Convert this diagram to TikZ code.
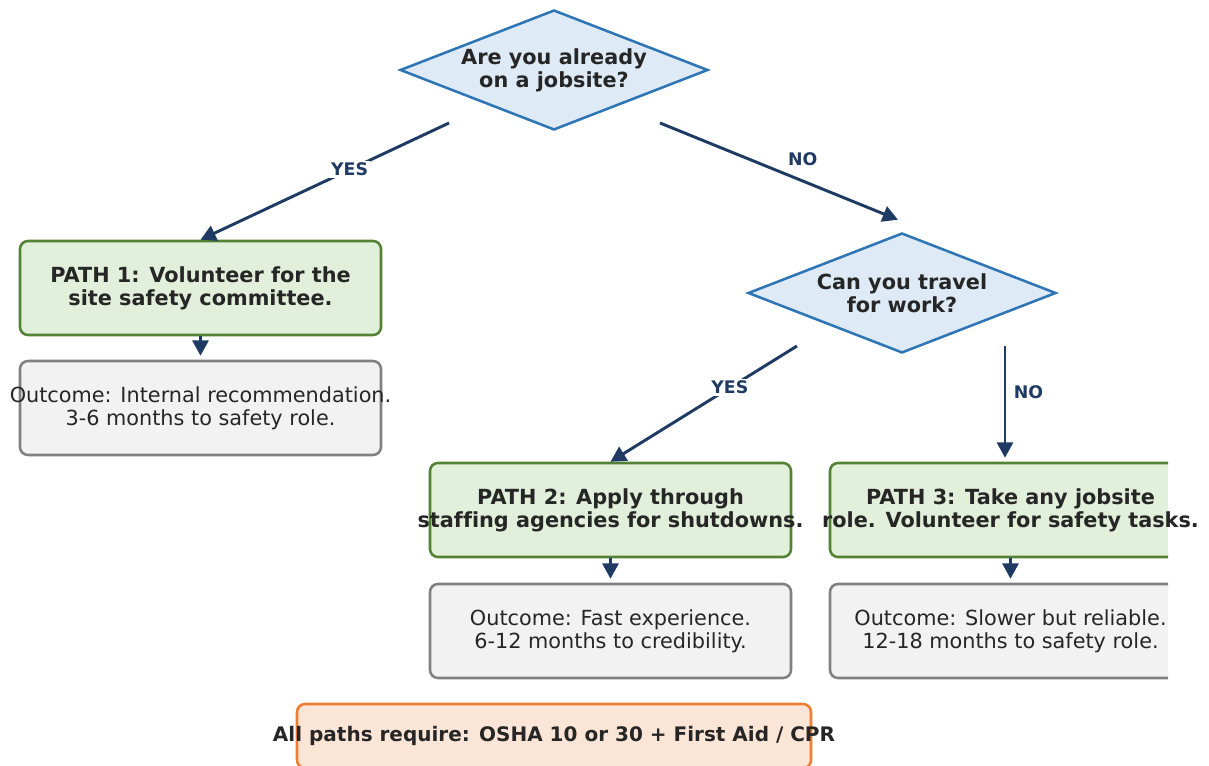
\documentclass[tikz,border=0pt]{standalone}
\usepackage{fontspec}
\setmainfont[Ligatures=NoCommon]{DejaVu Sans}
\usetikzlibrary{shapes.geometric,arrows.meta,positioning,calc}
\definecolor{navy}{HTML}{1F3A63}
\definecolor{ink}{HTML}{262626}
\definecolor{askline}{HTML}{2E75B6}
\definecolor{askfill}{HTML}{DEEAF6}
\definecolor{pathline}{HTML}{548235}
\definecolor{pathfill}{HTML}{E2EFDA}
\definecolor{outline}{HTML}{808080}
\definecolor{outfill}{HTML}{F2F2F2}
\definecolor{reqline}{HTML}{ED7D31}
\definecolor{reqfill}{HTML}{FBE5D6}
\begin{document}
\begin{tikzpicture}[x=0.75pt, y=-0.75pt,
  ask/.style = {diamond, draw=askline, fill=askfill, line width=1.9pt, inner sep=0pt, minimum width=231pt, minimum height=90pt},
  box/.style = {rectangle, rounded corners=6pt, line width=1.9pt, inner sep=0pt, minimum width=270.75pt, minimum height=70.5pt},
  pathbox/.style = {box, draw=pathline, fill=pathfill},
  outbox/.style = {box, draw=outline, fill=outfill},
  reqbox/.style = {box, draw=reqline, fill=reqfill, minimum width=385.5pt, minimum height=48pt},
  head/.style = {align=center, text=ink, inner sep=0pt, font=\bfseries\fontsize{15.6pt}{17.25pt}\selectfont},
  body/.style = {align=center, text=ink, inner sep=0pt, font=\fontsize{15.6pt}{17.25pt}\selectfont},
  tag/.style = {text=navy, inner sep=1.5pt, font=\bfseries\fontsize{13pt}{14pt}\selectfont},
  arr/.style = {draw=navy, line width=2.2pt, -{Triangle[length=11.5pt,width=12pt]}}]
  \useasboundingbox (0,0) rectangle (1209,766);
  % shapes, cut off at the right edge
  \begin{scope}
    \clip (0,0) rectangle (1168,766);
    \node[ask] (q1) at (554,70) {};
    \node[ask] (q2) at (902,293) {};
    \node[pathbox] (p1) at (200.5,288) {};
    \node[outbox] (o1) at (200.5,408) {};
    \node[pathbox] (p2) at (610.5,510) {};
    \node[outbox] (o2) at (610.5,631) {};
    \node[pathbox] (p3) at (1010.5,510) {};
    \node[outbox] (o3) at (1010.5,631) {};
    \node[reqbox] (req) at (554,736) {};
  \end{scope}
  % texts
  \node[head] (q1t) at (q1) {Are you already\\on a jobsite?};
  \node[head] (q2t) at (q2) {Can you travel\\for work?};
  \node[head] (p1t) at (p1) {PATH 1: Volunteer for the\\site safety committee.};
  \node[body] (o1t) at (o1) {Outcome: Internal recommendation.\\3-6 months to safety role.};
  \node[head] (p2t) at (p2) {PATH 2: Apply through\\staffing agencies for shutdowns.};
  \node[body] (o2t) at (o2) {Outcome: Fast experience.\\6-12 months to credibility.};
  \node[head] (p3t) at (p3) {PATH 3: Take any jobsite\\role. Volunteer for safety tasks.};
  \node[body] (o3t) at (o3) {Outcome: Slower but reliable.\\12-18 months to safety role.};
  \node[head, font=\bfseries\fontsize{15pt}{17pt}\selectfont] (reqt) at (req) {All paths require: OSHA 10 or 30 + First Aid / CPR};
  % connectors
  \coordinate (q1yes) at ($(q1)+(-105,53)$);
  \coordinate (q1no) at ($(q1)+(106,53)$);
  \coordinate (q2in) at ($(q2.north)+(-4,-12)$);
  \coordinate (q2yes) at ($(q2)+(-105,53)$);
  \coordinate (q2no) at ($(q2)+(103,53)$);
  \draw[arr] (q1yes) -- node[tag, fill=white, pos=0.4] (yes1) {YES} (p1.north);
  \draw[arr] (q1no) -- node[tag, pos=0.6, yshift=16.5pt] (no1) {NO} (q2in);
  \draw[arr] (q2yes) -- node[tag, fill=white, pos=0.36] (yes2) {YES} (p2.north);
  \draw[arr, shorten >=3pt] (q2no) -- node[tag, pos=0.4, right=4pt] (no2) {NO} (q2no |- p3.north);
  \draw[arr, shorten >=3pt] (p1) -- (o1);
  \draw[arr, shorten >=3pt] (p2) -- (o2);
  \draw[arr, shorten >=3pt] (p3) -- (o3);
\end{tikzpicture}
\end{document}
